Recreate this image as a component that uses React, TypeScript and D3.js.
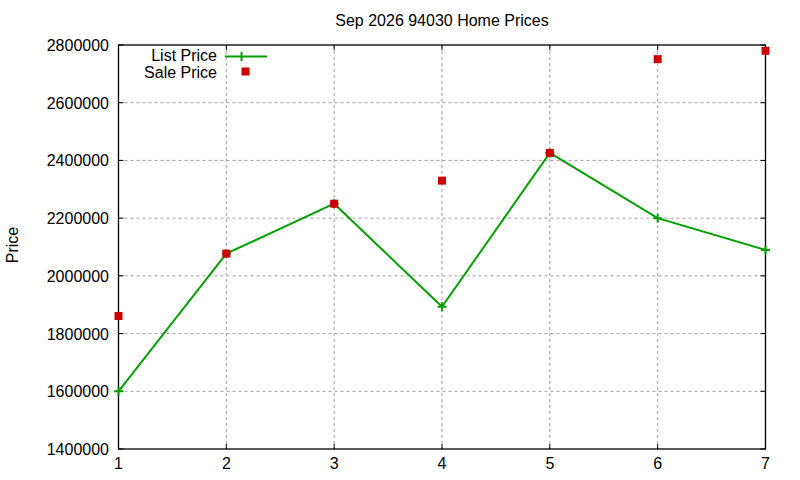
import React from "react";
import * as d3 from "d3";

const days = [1, 2, 3, 4, 5, 6, 7];
const listPrice = [1600000, 2077000, 2250000, 1893000, 2426000, 2200000, 2090000];
const salePrice = [1861000, 2077000, 2250000, 2330000, 2426000, 2751000, 2780000];
const yTicks = [1400000, 1600000, 1800000, 2000000, 2200000, 2400000, 2600000, 2800000];
const xTicks = [1, 2, 3, 4, 5, 6, 7];

const W = 800, H = 480;
const L = 118.5, R = 765.5, T = 45, B = 449;
const font = "'Liberation Sans', Arial, sans-serif";

export default function App() {
  const x = d3.scaleLinear().domain([1, 7]).range([L, R]);
  const y = d3.scaleLinear().domain([1400000, 2800000]).range([B, T]);
  const line = d3.line<number>().x((_, i) => x(days[i])).y((d) => y(d));
  const green = "#00a000";
  const red = "#cc0000";
  const grid = "#a0a0a0";
  return (
    <svg width={W} height={H} style={{ position: "absolute", left: 0, top: 0 }} fontFamily={font}>
      <rect width={W} height={H} fill="#fff" />
      {xTicks.slice(1, -1).map((t) => (
        <line key={"gx" + t} x1={x(t)} x2={x(t)} y1={T} y2={B} stroke={grid} strokeDasharray="3,3" strokeWidth={1} />
      ))}
      {yTicks.slice(1, -1).map((t) => (
        <line key={"gy" + t} x1={L} x2={R} y1={y(t)} y2={y(t)} stroke={grid} strokeDasharray="3,3" strokeWidth={1} />
      ))}
      {xTicks.map((t) => (
        <g key={"tx" + t}>
          <line x1={x(t)} x2={x(t)} y1={B} y2={B - 5} stroke="#000" />
          <line x1={x(t)} x2={x(t)} y1={T} y2={T + 5} stroke="#000" />
          <text x={x(t)} y={469} fontSize={16} textAnchor="middle">{t}</text>
        </g>
      ))}
      {yTicks.map((t) => (
        <g key={"ty" + t}>
          <line x1={L} x2={L + 5} y1={y(t)} y2={y(t)} stroke="#000" />
          <line x1={R} x2={R - 5} y1={y(t)} y2={y(t)} stroke="#000" />
          <text x={109} y={y(t) + 6} fontSize={16} textAnchor="end">{t}</text>
        </g>
      ))}
      <rect x={L} y={T} width={R - L} height={B - T} fill="none" stroke="#000" strokeWidth={1.3} />
      <text x={442} y={26} fontSize={16} textAnchor="middle">Sep 2026 94030 Home Prices</text>
      <text transform={`translate(18,245) rotate(-90)`} fontSize={16} textAnchor="middle">Price</text>
      <path d={line(listPrice) || ""} fill="none" stroke={green} strokeWidth={2} />
      {listPrice.map((v, i) => (
        <path key={"lp" + i} d={`M${x(days[i]) - 4.5},${y(v)}h9M${x(days[i])},${y(v) - 4.5}v9`} stroke={green} strokeWidth={2} />
      ))}
      {salePrice.map((v, i) => (
        <rect key={"sp" + i} x={x(days[i]) - 4} y={y(v) - 4} width={8} height={8} fill={red} />
      ))}
      <text x={217} y={61} fontSize={16} textAnchor="end">List Price</text>
      <line x1={225} x2={267} y1={56.5} y2={56.5} stroke={green} strokeWidth={2} />
      <path d={`M241.5,52v9`} stroke={green} strokeWidth={2} />
      <text x={217} y={78} fontSize={16} textAnchor="end">Sale Price</text>
      <rect x={241.5} y={67.5} width={8} height={8} fill={red} />
    </svg>
  );
}
